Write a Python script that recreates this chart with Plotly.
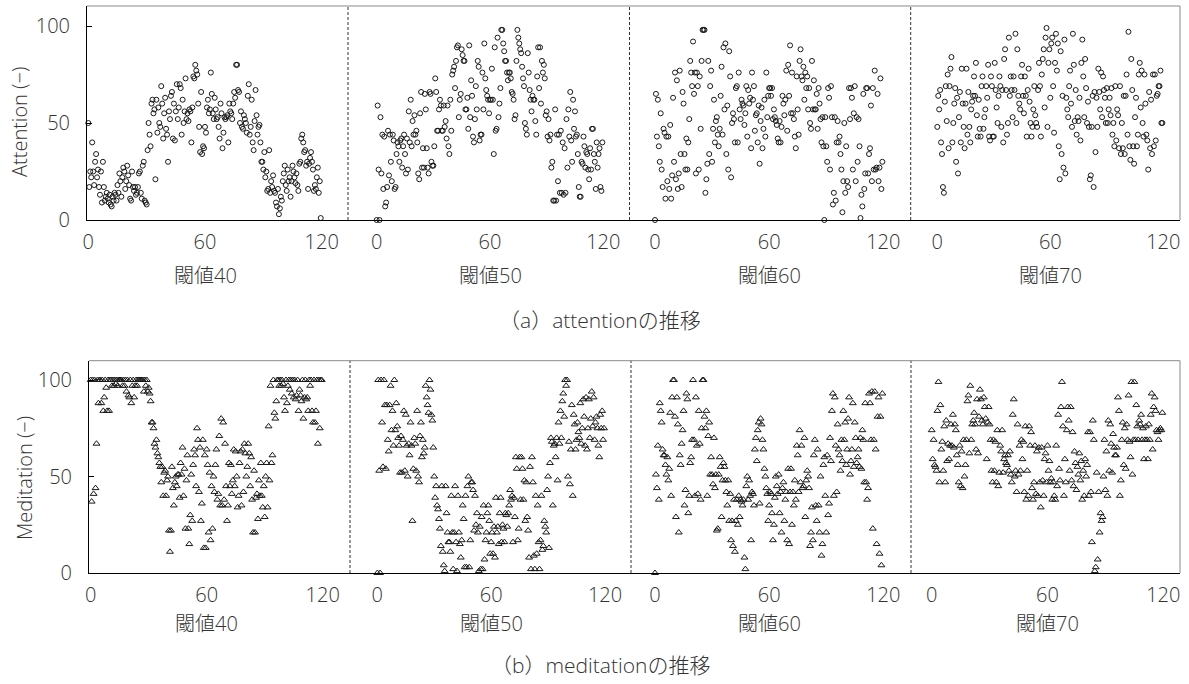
import numpy as np
import plotly.graph_objects as go

W, H = 1189, 684

# ---------------- data ----------------
time_step = 0.5            # seconds between samples
xtick_vals = [0, 60, 120]
ytick_vals = [0, 50, 100]
panel_labels = ["閾値40", "閾値50", "閾値60", "閾値70"]

att40 = [50,17,25,22,40,25,18,30,34,22, 26,17,13,25,9,30,17,10,12,14,
         11,9,13,8,7,12,10,14,13,10, 18,14,24,20,12,22,27,25,16,20,
         28,23,18,11,10,25,17,15,17,13, 14,17,24,25,14,11,28,30,10,9,
         8,36,50,44,38,60,62,55,57,21, 62,45,58,50,48,69,60,42,55,63,
         47,44,30,56,52,64,66,42,60,41, 56,70,52,58,70,68,44,62,50,56,
         73,52,55,51,57,56,40,58,74,73, 80,77,75,60,48,35,66,34,38,37,
         48,45,58,62,55,57,76,65,55,52, 63,57,52,53,48,42,60,55,37,45,
         53,52,53,54,40,60,56,55,52,60, 66,63,80,80,67,66,50,56,48,47,
         54,52,50,45,64,70,44,48,62,40, 36,51,67,54,44,48,49,40,30,30,
         26,35,22,25,15,16,36,14,20,17, 23,15,14,9,7,16,3,6,12,10,
         20,24,28,18,15,26,20,22,12,20, 28,25,22,19,24,18,15,29,30,42,
         44,40,35,36,28,30,16,29,32,35, 30,26,15,18,16,22,27,14,20,1]

att50 = [0,59,26,0,53,24,44,16,43,7, 9,17,46,23,44,30,20,44,41,16,
         17,34,40,38,30,41,42,27,38,44, 34,24,42,26,56,40,62,38,51,44,
         54,44,46,40,24,21,55,66,27,37, 27,65,57,37,27,24,66,65,30,28,
         28,38,73,66,46,46,57,62,59,46, 46,59,48,51,42,59,38,34,62,46,
         75,77,79,68,82,89,90,53,62,65, 88,85,82,82,57,57,63,47,90,53,
         72,64,43,40,52,69,57,82,79,41, 44,44,76,57,91,73,67,64,62,55,
         62,62,78,62,34,89,46,47,94,53, 60,68,98,98,91,87,82,82,76,72,
         76,76,73,66,65,62,52,54,82,98, 94,91,88,86,79,73,69,50,47,44,
         86,76,67,62,56,64,62,62,51,44, 74,89,68,89,60,82,76,80,73,54,
         56,43,52,41,44,27,30,10,10,57, 10,44,20,44,14,46,14,40,13,37,
         14,52,27,57,43,66,41,30,62,47, 56,43,44,34,17,12,12,30,29,43,
         38,27,35,34,26,21,37,26,47,47, 34,30,16,40,27,34,37,17,15,40]

att60 = [0,65,43,62,38,30,55,26,17,47, 45,11,43,20,43,16,49,11,23,63,
         30,76,21,72,16,24,77,34,17,66, 60,34,26,42,26,40,52,82,76,69,
         92,65,76,24,76,69,26,74,47,82, 98,98,98,14,21,29,82,34,69,77,
         30,47,62,40,51,53,44,38,47,64, 79,44,89,57,91,34,59,26,87,74,
         22,50,55,52,40,68,69,40,76,57, 52,62,60,59,49,55,69,43,67,60,
         63,37,76,62,69,46,54,55,40,59, 29,51,58,37,47,62,43,76,53,64,
         68,68,64,68,52,57,53,51,49,42, 40,51,40,48,64,60,54,62,77,46,
         80,64,90,55,76,55,52,43,37,74, 57,44,82,88,74,72,79,62,76,68,
         74,57,68,50,47,82,57,72,57,57, 65,47,68,60,52,40,53,38,0,53,
         38,30,68,63,26,69,53,8,14,53, 10,40,51,40,43,34,26,4,20,50,
         14,38,20,17,68,52,68,63,26,55, 69,20,53,30,52,38,1,13,7,65,
         16,24,68,68,24,34,37,59,20,68, 26,77,26,27,65,20,27,73,16,30]

att70 = [48,64,57,67,40,34,17,14,61,69, 51,75,37,69,78,84,40,50,60,68,
         30,63,24,53,66,40,78,60,48,37, 60,78,44,66,48,40,57,61,64,74,
         64,81,54,43,62,47,43,69,74,47, 53,57,69,63,80,43,41,74,69,43,
         43,81,67,58,50,64,74,69,48,67, 40,83,88,67,44,50,94,64,74,67,
         53,74,67,96,50,88,64,60,57,74, 80,64,55,74,64,43,67,78,61,50,
         43,48,57,69,54,50,48,67,81,69, 43,75,83,88,58,94,99,48,81,88,
         63,91,94,69,45,81,96,77,91,38, 21,87,34,64,27,93,24,63,57,53,
         69,77,60,48,96,80,51,67,44,53, 51,63,41,81,93,74,53,83,68,50,
         61,48,21,23,48,64,17,66,35,63, 48,78,66,57,76,53,74,67,63,50,
         68,50,57,63,54,68,44,50,38,69, 41,57,54,37,69,34,50,37,64,34,
         64,75,44,97,38,31,83,67,38,29, 53,63,38,44,75,81,58,77,50,43,
         75,60,44,41,26,66,37,62,34,75, 38,75,41,64,65,69,69,77,50,50]

med40 = [100,37,100,41,100,44,67,100,88,100, 100,88,100,84,91,100,96,84,100,84,
         100,100,97,100,97,100,98,100,97,100, 100,100,100,97,100,97,100,94,100,92,
         91,100,88,97,100,91,97,100,97,100, 100,100,100,100,100,94,100,97,100,94,
         96,93,89,78,78,75,67,65,69,62, 60,57,55,47,55,40,52,53,40,48,
         50,22,11,22,55,44,35,47,50,45, 51,51,39,57,51,65,40,54,23,48,
         61,23,15,30,51,27,56,64,61,45, 75,69,42,65,27,36,69,13,61,13,
         64,56,21,52,17,45,23,50,42,56, 64,38,41,71,35,80,35,78,38,67,
         45,27,35,57,45,56,41,48,64,45, 63,50,34,40,57,63,35,64,42,67,
         62,50,55,67,62,45,60,38,21,53, 21,39,41,28,48,40,57,40,34,45,
         29,50,57,34,76,48,97,57,61,100, 83,80,89,100,100,97,100,97,100,98,
         91,84,100,88,97,100,95,100,93,100, 91,100,90,92,100,84,95,92,89,100,
         80,91,100,90,91,84,100,97,100,84, 78,100,78,84,100,67,100,75,100,100]

med50 = [0,100,53,0,100,78,55,100,87,54, 87,69,63,87,97,74,84,66,100,74,
         88,76,70,66,52,71,52,69,84,53, 82,66,50,67,61,78,66,27,54,70,
         67,53,84,50,47,71,78,60,69,62, 65,97,91,87,83,100,95,82,79,65,
         50,39,45,35,33,28,23,14,45,11, 4,1,45,31,21,16,16,11,40,21,
         2,21,45,16,1,40,21,15,8,17, 35,28,3,40,3,45,50,3,17,47,
         47,43,22,40,25,31,21,1,24,2, 29,2,35,7,17,21,31,35,27,10,
         16,21,10,24,8,39,21,24,15,31, 39,16,25,23,16,31,30,24,31,35,
         43,38,40,16,39,29,60,54,17,23, 60,38,60,54,38,48,27,47,29,22,
         8,55,2,60,47,9,2,40,10,35, 16,2,17,40,12,14,27,24,21,43,
         50,13,57,70,68,35,66,67,60,70, 48,78,67,84,70,89,93,81,100,97,
         100,50,68,46,64,87,40,82,77,64, 69,78,73,70,88,67,75,90,81,66,
         91,64,75,90,70,80,94,76,91,69, 78,81,75,66,60,82,75,84,69,75]

med60 = [0,51,44,66,38,88,84,78,64,61, 61,56,51,60,48,54,83,40,91,100,
         100,81,29,91,77,21,61,56,67,74, 84,35,43,93,90,31,40,57,60,69,
         100,69,40,91,66,41,84,67,38,75, 100,100,81,75,84,40,71,78,51,60,
         51,46,70,44,51,22,23,51,60,55, 29,48,57,55,48,42,35,48,27,41,
         17,27,14,38,11,27,38,25,40,29, 38,37,35,38,8,2,45,50,38,48,
         40,17,42,41,35,64,70,58,74,78, 36,80,77,69,64,54,50,44,41,27,
         35,42,41,31,17,25,39,50,45,41, 51,31,42,21,44,47,27,38,42,17,
         54,15,42,54,25,42,35,48,38,66, 61,42,74,47,66,44,45,70,29,48,
         53,50,44,14,21,34,17,61,69,35, 27,64,35,21,50,9,15,56,60,40,
         21,61,30,36,70,58,84,93,40,91, 66,42,77,64,61,53,69,58,84,69,
         78,56,64,80,91,51,58,64,88,55, 78,70,57,60,64,55,70,54,74,69,
         47,88,47,38,44,93,88,69,94,23, 69,94,64,15,81,91,10,81,4,93]

med70 = [74,59,69,56,55,53,84,99,47,87, 64,68,53,76,47,79,58,67,59,66,
         77,66,82,65,77,74,61,56,47,66, 45,63,44,69,50,56,69,89,92,62,
         97,69,77,79,83,77,64,90,62,81, 95,90,79,77,91,86,80,59,78,86,
         77,69,53,47,69,53,68,47,74,45, 52,66,63,74,52,59,61,57,56,61,
         53,63,51,47,82,90,50,53,42,77, 51,66,53,69,59,68,42,76,38,53,
         40,76,66,73,44,38,47,66,41,63, 40,65,47,34,65,48,40,59,62,47,
         66,53,58,47,49,38,47,40,38,66, 45,82,54,48,86,99,76,40,59,47,
         74,86,79,53,86,48,73,45,63,57, 43,55,51,62,48,58,38,53,40,59,
         50,56,73,40,73,42,16,79,69,1, 3,52,7,42,21,31,27,29,50,69,
         43,63,40,79,53,77,67,52,72,65, 61,61,65,91,84,40,48,69,78,56,
         75,54,77,69,92,68,60,99,51,69, 99,69,87,76,69,79,77,82,69,75,
         59,69,76,69,59,77,69,82,93,64, 86,91,84,74,73,69,74,75,74,83]

# ---------------- layout (pixel geometry) ----------------
FONT = "Open Sans, Noto Sans CJK JP, sans-serif"
TXT = "#333333"
INK = "#1a1a1a"
TICK_SIZE = 20
LABEL_SIZE = 20
CAPTION_SIZE = 21

rows = [
    dict(series=[att40, att50, att60, att70], symbol="circle-open", size=5,
         ytitle="Attention (−)", caption="（a）attentionの推移",
         top=6, bottom=220, y100=26, edges=[87, 348, 629.5, 910.7, 1180],
         zeros=[88.3, 376.7, 655.0, 937.3], ones=[321.7, 603.3, 883.3, 1163.3],
         ytitle_xy=(20, 122), caption_y=320, xtitle_y=275),
    dict(series=[med40, med50, med60, med70], symbol="triangle-up-open", size=6,
         ytitle="Meditation (−)", caption="（b）meditationの推移",
         top=360.7, bottom=573, y100=380, edges=[89, 350, 631, 911, 1180],
         zeros=[90.7, 377.3, 655.0, 931.7], ones=[322.7, 605.0, 883.3, 1163.3],
         ytitle_xy=(24, 478), caption_y=665, xtitle_y=623),
]

fig = go.Figure()
shapes, annotations = [], []
layout_axes = {}

def px2x(p):
    return p / W

def px2y(p):
    return 1 - p / H

k = 0
for r in rows:
    yscale = (r["bottom"] - r["y100"]) / 100.0
    ytop = (r["bottom"] - r["top"]) / yscale
    for j in range(4):
        k += 1
        vals = r["series"][j]
        t = np.arange(len(vals)) * time_step
        xs = (r["ones"][j] - r["zeros"][j]) / 120.0
        x0 = (r["edges"][j] - r["zeros"][j]) / xs
        x1 = (r["edges"][j + 1] - r["zeros"][j]) / xs
        xa = "x" if k == 1 else f"x{k}"
        ya = "y" if k == 1 else f"y{k}"
        fig.add_trace(go.Scatter(
            x=t, y=vals, mode="markers", xaxis=xa, yaxis=ya, cliponaxis=False,
            marker=dict(symbol=r["symbol"], size=r["size"], color=INK,
                        line=dict(color=INK, width=1)),
            showlegend=False, hoverinfo="x+y"))
        xkey = "xaxis" if k == 1 else f"xaxis{k}"
        ykey = "yaxis" if k == 1 else f"yaxis{k}"
        layout_axes[xkey] = dict(
            domain=[px2x(r["edges"][j]), px2x(r["edges"][j + 1])],
            anchor=ya, range=[x0, x1], tickvals=xtick_vals, ticks="",
            showgrid=False, zeroline=False, showline=True, linecolor="#000",
            linewidth=1,
            tickfont=dict(family=FONT, size=TICK_SIZE, color=TXT, weight=300),
            ticklabelstandoff=4, fixedrange=True, automargin=False)
        first = (j == 0)
        layout_axes[ykey] = dict(
            domain=[px2y(r["bottom"]), px2y(r["top"])], anchor=xa,
            range=[0, ytop], tickvals=ytick_vals,
            ticks="inside" if first else "", ticklen=5, tickcolor="#000",
            showticklabels=first, showgrid=False, zeroline=False,
            showline=first, linecolor="#000", linewidth=1,
            tickfont=dict(family=FONT, size=TICK_SIZE, color=TXT, weight=300),
            ticklabelstandoff=12, fixedrange=True, automargin=False)
        # panel label under the axis
        annotations.append(dict(
            text=panel_labels[j], xref=xa, x=60, yref="paper",
            y=px2y(r["xtitle_y"]), yanchor="middle", xanchor="center",
            showarrow=False,
            font=dict(family=FONT, size=LABEL_SIZE, color=TXT, weight=300)))
        # dashed separators
        if j > 0:
            shapes.append(dict(
                type="line", xref="paper", yref="paper",
                x0=px2x(r["edges"][j]), x1=px2x(r["edges"][j]),
                y0=px2y(r["bottom"]), y1=px2y(r["top"]),
                line=dict(color="#333", width=1, dash="3px,2px")))
    # gray top and right frame lines
    shapes.append(dict(type="line", xref="paper", yref="paper",
                       x0=px2x(r["edges"][0]), x1=px2x(r["edges"][-1]),
                       y0=px2y(r["top"]), y1=px2y(r["top"]),
                       line=dict(color="#8a8a8a", width=1)))
    shapes.append(dict(type="line", xref="paper", yref="paper",
                       x0=px2x(r["edges"][-1]), x1=px2x(r["edges"][-1]),
                       y0=px2y(r["bottom"]), y1=px2y(r["top"]),
                       line=dict(color="#8a8a8a", width=1)))
    annotations.append(dict(
        text=r["ytitle"], xref="paper", yref="paper",
        x=px2x(r["ytitle_xy"][0]), y=px2y(r["ytitle_xy"][1]),
        xanchor="center", yanchor="middle", textangle=-90, showarrow=False,
        font=dict(family=FONT, size=LABEL_SIZE, color=TXT, weight=300)))
    annotations.append(dict(
        text=r["caption"], xref="paper", yref="paper",
        x=px2x(600), y=px2y(r["caption_y"]), xanchor="center",
        yanchor="middle", showarrow=False,
        font=dict(family=FONT, size=CAPTION_SIZE, color=TXT, weight=300)))

fig.update_layout(
    width=W, height=H, margin=dict(l=0, r=0, t=0, b=0),
    paper_bgcolor="white", plot_bgcolor="white",
    shapes=shapes, annotations=annotations, **layout_axes)

fig.write_html(
    "out.html",
    config={"displayModeBar": False},
    post_script="document.body.style.margin='0';document.body.style.padding='0';"
                "document.body.style.overflow='hidden';")
